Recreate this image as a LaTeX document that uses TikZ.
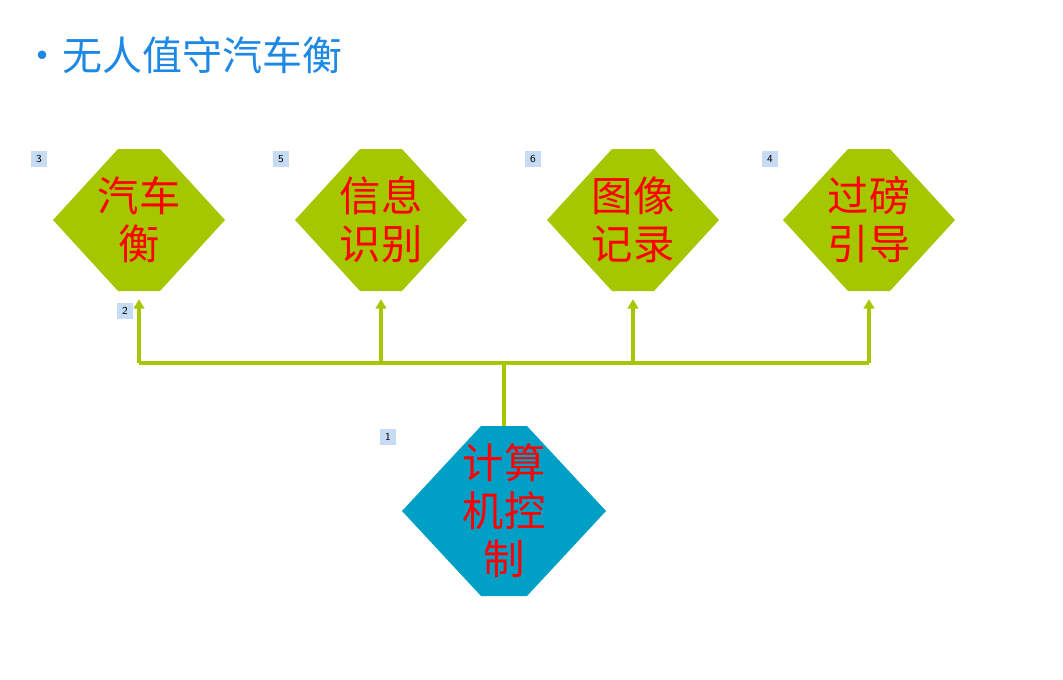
\documentclass[tikz,border=0pt]{standalone}
\usepackage{fontspec}
\newfontfamily\cjk{Noto Sans CJK SC}
\usetikzlibrary{arrows.meta}
\definecolor{leaf}{HTML}{A5C700}
\definecolor{sea}{HTML}{00A0C6}
\definecolor{titleblue}{HTML}{1E88E5}
\definecolor{tagblue}{HTML}{C6DCF4}

% hexagon: name, cx, cy, half width, half height, half top, colour, text
\newcommand{\hexbox}[8]{%
  \fill[#7] (#2-#6,#3-#5) -- (#2+#6,#3-#5) -- (#2+#4,#3) -- (#2+#6,#3+#5)
    -- (#2-#6,#3+#5) -- (#2-#4,#3) -- cycle;
  \node[hextext, minimum width=#4*1.5pt, minimum height=#5*1.5pt] (#1) at (#2,#3) {#8};}

\begin{document}
\begin{tikzpicture}[x=0.75pt,y=-0.75pt,
  hextext/.style={inner sep=0pt,align=center,text=red,font=\cjk\fontsize{31}{36}\selectfont},
  tag/.style={fill=tagblue,inner sep=0pt,minimum size=12pt,font=\sffamily\fontsize{8}{9}\selectfont},
  link/.style={leaf,line width=3pt},
  feed/.style={link,-{Triangle[width=8pt,length=7pt]}}]

	%frame
	\useasboundingbox (0,0) rectangle (1063,679);

	%title
	\node[anchor=west,text=titleblue,font=\cjk\fontsize{30}{34}\selectfont] (title) at (18,55) {•无人值守汽车衡};

	%hexagons
	\hexbox{scale}{139}{220}{86}{71}{21}{leaf}{汽车\\衡}
	\hexbox{ident}{381}{220}{86}{71}{21}{leaf}{信息\\识别}
	\hexbox{image}{633}{220}{86}{71}{21}{leaf}{图像\\记录}
	\hexbox{guide}{869}{220}{86}{71}{21}{leaf}{过磅\\引导}
	\hexbox{pc}{504}{511}{102}{85}{23}{sea}{计算\\机控\\制}

	%tags
	\node[tag] (t3) at (39,159) {3};
	\node[tag] (t5) at (281,159) {5};
	\node[tag] (t6) at (533,159) {6};
	\node[tag] (t4) at (770,159) {4};
	\node[tag] (t2) at (125,311) {2};
	\node[tag] (t1) at (388,437) {1};

	%bus
	\coordinate (hub) at (504,363);
	\coordinate (busl) at (139,363);
	\coordinate (busr) at (869,363);
	\draw[link] (pc.north) -- (hub);
	\draw[link] (busl) -- (busr);
	\draw[feed] (busl) -- ([yshift=-6pt]scale.south);
	\draw[feed] (ident.south |- hub) -- ([yshift=-6pt]ident.south);
	\draw[feed] (image.south |- hub) -- ([yshift=-6pt]image.south);
	\draw[feed] (busr) -- ([yshift=-6pt]guide.south);

\end{tikzpicture}
\end{document}
